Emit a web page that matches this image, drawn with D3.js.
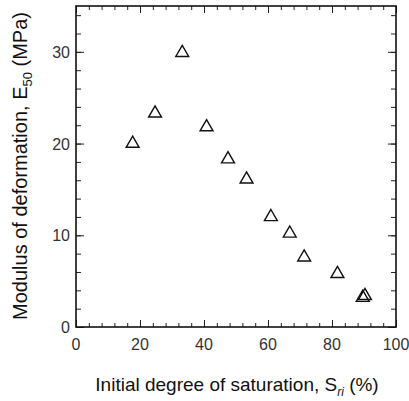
<!DOCTYPE html>
<html>
<head>
<meta charset="utf-8">
<script src="https://cdn.jsdelivr.net/npm/d3@7"></script>
<style>
  body { margin: 0; background: #fff; }
  svg { display: block; font-family: "Liberation Sans", Arial, sans-serif; }
</style>
</head>
<body>
<script>
// data
var saturation = [17.7, 24.7, 33.2, 40.8, 47.5, 53.3, 60.9, 66.8, 71.3, 81.7, 89.6, 90.3];
var modulus    = [20.0, 23.3, 29.9, 21.8, 18.3, 16.1, 12.0, 10.2,  7.6,  5.8,  3.2,  3.4];
var xTicks = [0, 20, 40, 60, 80, 100];
var yTicks = [0, 10, 20, 30];

var W = 409, H = 401;
var margin = {left: 76, right: 13, top: 6, bottom: 74};

var svg = d3.select("body").append("svg")
  .attr("width", W)
  .attr("height", H);

var x = d3.scaleLinear().domain([0, 100]).range([margin.left, W - margin.right]);
var y = d3.scaleLinear().domain([0, 35]).range([H - margin.bottom, margin.top]);

var g = svg.append("g");

var xMinor = d3.range(0, 101, 4), yMinor = d3.range(0, 35.1, 2);

function styleAxis(sel) {
  sel.select(".domain").remove();
  sel.selectAll("line").attr("stroke", "#222").attr("stroke-width", 1);
}

// minor ticks, pointing inward on all four sides
g.append("g").attr("transform", "translate(0," + y(0) + ")")
  .call(d3.axisBottom(x).tickValues(xMinor).tickSize(-4).tickFormat("")).call(styleAxis);
g.append("g").attr("transform", "translate(0," + y(35) + ")")
  .call(d3.axisTop(x).tickValues(xMinor).tickSize(-4).tickFormat("")).call(styleAxis);
g.append("g").attr("transform", "translate(" + x(0) + ",0)")
  .call(d3.axisLeft(y).tickValues(yMinor).tickSize(-5).tickFormat("")).call(styleAxis);
g.append("g").attr("transform", "translate(" + x(100) + ",0)")
  .call(d3.axisRight(y).tickValues(yMinor).tickSize(-5).tickFormat("")).call(styleAxis);

// major ticks (longer)
g.append("g").attr("transform", "translate(0," + y(0) + ")")
  .call(d3.axisBottom(x).tickValues(xTicks).tickSize(-7).tickFormat("")).call(styleAxis);
g.append("g").attr("transform", "translate(0," + y(35) + ")")
  .call(d3.axisTop(x).tickValues(xTicks).tickSize(-7).tickFormat("")).call(styleAxis);
g.append("g").attr("transform", "translate(" + x(0) + ",0)")
  .call(d3.axisLeft(y).tickValues(yTicks).tickSize(-8).tickFormat("")).call(styleAxis);
g.append("g").attr("transform", "translate(" + x(100) + ",0)")
  .call(d3.axisRight(y).tickValues(yTicks).tickSize(-8).tickFormat("")).call(styleAxis);

// frame
g.append("rect")
  .attr("x", x(0)).attr("y", y(35))
  .attr("width", x(100) - x(0)).attr("height", y(0) - y(35))
  .attr("fill", "none").attr("stroke", "#111").attr("stroke-width", 1.6);

// tick labels
g.selectAll(".xl").data(xTicks).enter().append("text")
  .attr("x", function(d) { return x(d); })
  .attr("y", y(0) + 23)
  .attr("text-anchor", "middle")
  .attr("font-size", "16px")
  .attr("fill", "#333")
  .text(function(d) { return d; });

g.selectAll(".yl").data(yTicks).enter().append("text")
  .attr("x", x(0) - 6)
  .attr("y", function(d) { return y(d) + 6; })
  .attr("text-anchor", "end")
  .attr("font-size", "16px")
  .attr("fill", "#333")
  .text(function(d) { return d; });

// axis titles
var xt = svg.append("text")
  .attr("x", 237).attr("y", 391)
  .attr("text-anchor", "middle")
  .attr("font-size", "19px")
  .attr("fill", "#111");
xt.append("tspan").text("Initial degree of saturation, S");
xt.append("tspan").attr("font-size", "12px").attr("font-style", "italic").attr("dy", 5).text("ri");
xt.append("tspan").attr("dy", -5).text(" (%)");

var yt = svg.append("text")
  .attr("transform", "translate(27,166) rotate(-90)")
  .attr("text-anchor", "middle")
  .attr("font-size", "20px")
  .attr("fill", "#111");
yt.append("tspan").text("Modulus of deformation, E");
yt.append("tspan").attr("font-size", "13px").attr("dy", 5).text("50");
yt.append("tspan").attr("dy", -5).text(" (MPa)");

// points
var tri = d3.symbol().type(d3.symbolTriangle).size(72);
g.selectAll(".pt").data(saturation).enter().append("path")
  .attr("d", tri)
  .attr("transform", function(d, i) { return "translate(" + x(d) + "," + y(modulus[i]) + ")"; })
  .attr("fill", "none")
  .attr("stroke", "#111")
  .attr("stroke-width", 1.4);
</script>
</body>
</html>
